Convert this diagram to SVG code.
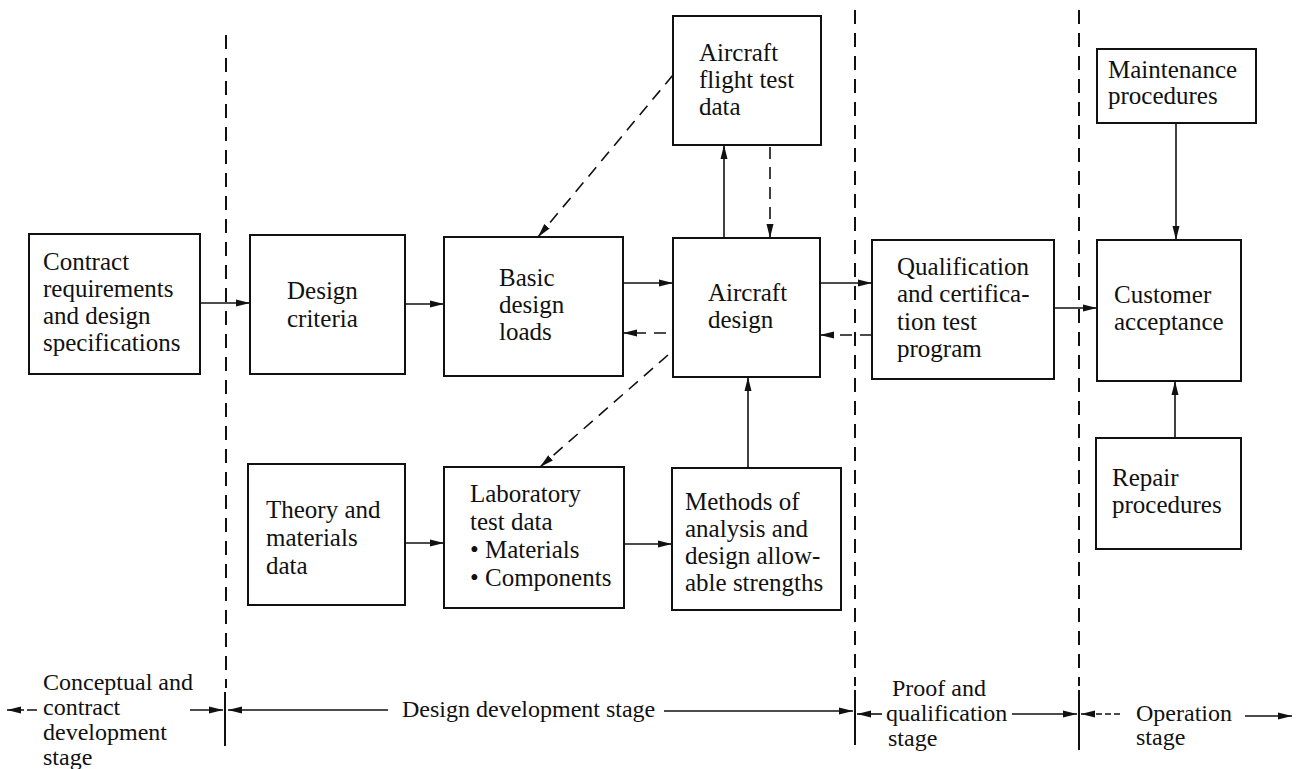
<svg xmlns="http://www.w3.org/2000/svg" width="1296" height="769" viewBox="0 0 1296 769">
<style>
.box{fill:#fff;stroke:#111;stroke-width:2}
.t{font-family:"Liberation Serif","Times New Roman",serif;font-size:25px;fill:#111}
.s{font-family:"Liberation Serif","Times New Roman",serif;font-size:24px;fill:#111}
.c{stroke:#111;stroke-width:1.6;fill:none}
.d{stroke-dasharray:12 8}
.sl{stroke:#111;stroke-width:2;fill:none;stroke-dasharray:14 9}
.tick{stroke:#111;stroke-width:2}
</style>
<defs>
<marker id="ah" markerUnits="userSpaceOnUse" markerWidth="14" markerHeight="8" refX="14" refY="4" orient="auto">
<path d="M0,0.5 L14,4 L0,7.5 z" fill="#111"/>
</marker>
</defs>
<rect width="1296" height="769" fill="#fff"/>

<g id="stage-lines">
<line class="sl" x1="226" y1="35" x2="226" y2="688"/>
<line class="sl" x1="855" y1="10" x2="855" y2="686"/>
<line class="sl" x1="1079" y1="10" x2="1079" y2="686"/>
<line class="tick" x1="225" y1="692" x2="225" y2="746"/>
<line class="tick" x1="855" y1="690" x2="855" y2="745"/>
<line class="tick" x1="1079" y1="690" x2="1079" y2="750"/>
</g>

<g id="n-contract">
<rect class="box" x="29" y="234" width="171" height="140"/>
<text class="t" x="43" y="270">Contract</text>
<text class="t" x="43" y="297">requirements</text>
<text class="t" x="43" y="324">and design</text>
<text class="t" x="43" y="351">specifications</text>
</g>
<g id="n-criteria">
<rect class="box" x="250" y="235" width="155" height="139"/>
<text class="t" x="287" y="299">Design</text>
<text class="t" x="287" y="327">criteria</text>
</g>
<g id="n-loads">
<rect class="box" x="444" y="237" width="179" height="139"/>
<text class="t" x="499" y="286">Basic</text>
<text class="t" x="499" y="313">design</text>
<text class="t" x="499" y="340">loads</text>
</g>
<g id="n-design">
<rect class="box" x="673" y="238" width="147" height="139"/>
<text class="t" x="708" y="301">Aircraft</text>
<text class="t" x="708" y="328">design</text>
</g>
<g id="n-flight">
<rect class="box" x="673" y="16" width="148" height="129"/>
<text class="t" x="699" y="61">Aircraft</text>
<text class="t" x="699" y="88">flight test</text>
<text class="t" x="699" y="115">data</text>
</g>
<g id="n-qual">
<rect class="box" x="872" y="240" width="182" height="139"/>
<text class="t" x="897" y="275">Qualification</text>
<text class="t" x="897" y="302">and certifica-</text>
<text class="t" x="897" y="330">tion test</text>
<text class="t" x="897" y="357">program</text>
</g>
<g id="n-maint">
<rect class="box" x="1097" y="49" width="159" height="74"/>
<text class="t" x="1108" y="78">Maintenance</text>
<text class="t" x="1108" y="104">procedures</text>
</g>
<g id="n-customer">
<rect class="box" x="1097" y="240" width="144" height="141"/>
<text class="t" x="1114" y="303">Customer</text>
<text class="t" x="1114" y="330">acceptance</text>
</g>
<g id="n-repair">
<rect class="box" x="1096" y="438" width="145" height="111"/>
<text class="t" x="1112" y="486">Repair</text>
<text class="t" x="1112" y="513">procedures</text>
</g>
<g id="n-theory">
<rect class="box" x="248" y="464" width="157" height="141"/>
<text class="t" x="266" y="518">Theory and</text>
<text class="t" x="266" y="546">materials</text>
<text class="t" x="266" y="574">data</text>
</g>
<g id="n-lab">
<rect class="box" x="444" y="467" width="180" height="141"/>
<text class="t" x="470" y="502">Laboratory</text>
<text class="t" x="470" y="530">test data</text>
<text class="t" x="470" y="558">• Materials</text>
<text class="t" x="470" y="586">• Components</text>
</g>
<g id="n-methods">
<rect class="box" x="672" y="468" width="169" height="142"/>
<text class="t" x="685" y="510">Methods of</text>
<text class="t" x="685" y="537">analysis and</text>
<text class="t" x="685" y="564">design allow-</text>
<text class="t" x="685" y="591">able strengths</text>
</g>

<g id="connectors">
<line class="c" x1="200" y1="303" x2="250" y2="303" marker-end="url(#ah)"/>
<line class="c" x1="405" y1="304" x2="444" y2="304" marker-end="url(#ah)"/>
<line class="c" x1="623" y1="283" x2="673" y2="283" marker-end="url(#ah)"/>
<line class="c d" x1="666" y1="333" x2="623" y2="333" marker-end="url(#ah)"/>
<line class="c" x1="820" y1="283" x2="872" y2="283" marker-end="url(#ah)"/>
<line class="c d" x1="872" y1="335" x2="820" y2="335" marker-end="url(#ah)"/>
<line class="c" x1="724" y1="238" x2="724" y2="145" marker-end="url(#ah)"/>
<line class="c d" x1="770" y1="147" x2="770" y2="238" marker-end="url(#ah)"/>
<line class="c d" x1="673" y1="75" x2="538" y2="237" marker-end="url(#ah)"/>
<line class="c d" x1="668" y1="355" x2="540" y2="467" marker-end="url(#ah)"/>
<line class="c" x1="405" y1="543" x2="444" y2="543" marker-end="url(#ah)"/>
<line class="c" x1="624" y1="544" x2="672" y2="544" marker-end="url(#ah)"/>
<line class="c" x1="748" y1="468" x2="748" y2="377" marker-end="url(#ah)"/>
<line class="c" x1="1176" y1="123" x2="1176" y2="240" marker-end="url(#ah)"/>
<line class="c" x1="1054" y1="308" x2="1097" y2="308" marker-end="url(#ah)"/>
<line class="c" x1="1175" y1="438" x2="1175" y2="381" marker-end="url(#ah)"/>
</g>

<g id="stage-labels">
<line class="c" x1="37" y1="710" x2="7" y2="710" stroke-dasharray="10 3" marker-end="url(#ah)"/>
<text class="s" x="43" y="690">Conceptual and</text>
<text class="s" x="43" y="715">contract</text>
<text class="s" x="43" y="740">development</text>
<text class="s" x="43" y="765">stage</text>
<line class="c" x1="190" y1="710" x2="223" y2="710" marker-end="url(#ah)"/>
<line class="c" x1="388" y1="710" x2="228" y2="710" marker-end="url(#ah)"/>
<text class="s" x="402" y="717">Design development stage</text>
<line class="c" x1="664" y1="711" x2="853" y2="711" marker-end="url(#ah)"/>
<line class="c" x1="882" y1="714" x2="857" y2="714" marker-end="url(#ah)"/>
<text class="s" x="892" y="696">Proof and</text>
<text class="s" x="886" y="721">qualification</text>
<text class="s" x="888" y="746">stage</text>
<line class="c" x1="1012" y1="714" x2="1077" y2="714" marker-end="url(#ah)"/>
<line class="c" x1="1120" y1="714" x2="1081" y2="714" stroke-dasharray="6 3" marker-end="url(#ah)"/>
<text class="s" x="1136" y="721">Operation</text>
<text class="s" x="1136" y="745">stage</text>
<line class="c" x1="1245" y1="716" x2="1292" y2="716" marker-end="url(#ah)"/>
</g>
</svg>
